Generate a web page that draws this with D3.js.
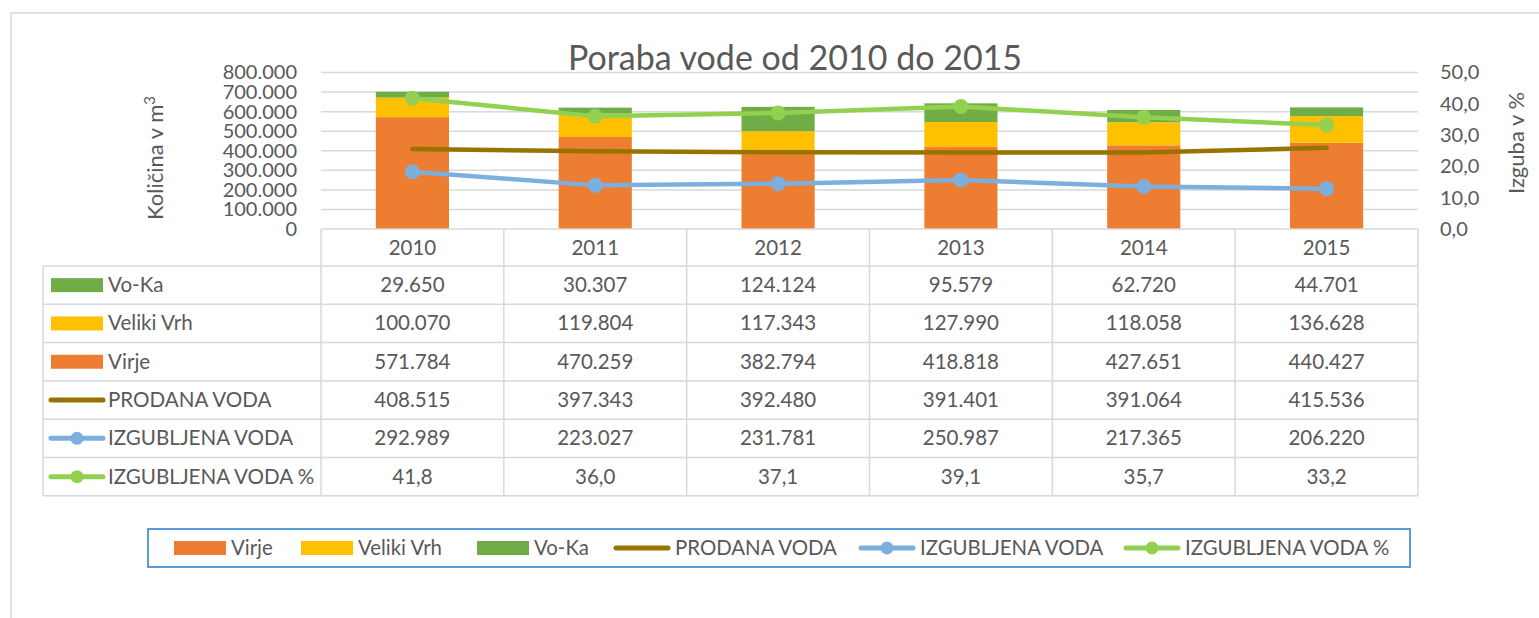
<!DOCTYPE html>
<html>
<head>
<meta charset="utf-8">
<script src="https://cdn.jsdelivr.net/npm/d3@7"></script>
<style>
  body { margin: 0; background: #fff; }
  svg text { font-family: Lato, "Open Sans", sans-serif; fill: #595959; }
</style>
</head>
<body>
<div id="chart"></div>
<script>
// DATA
const years = ["2010", "2011", "2012", "2013", "2014", "2015"]
const virje = [571784, 470259, 382794, 418818, 427651, 440427]
const velikiVrh = [100070, 119804, 117343, 127990, 118058, 136628]
const voKa = [29650, 30307, 124124, 95579, 62720, 44701]
const prodana = [408515, 397343, 392480, 391401, 391064, 415536]
const izgubljena = [292989, 223027, 231781, 250987, 217365, 206220]
const izgubljenaPct = [41.8, 36.0, 37.1, 39.1, 35.7, 33.2]
const leftTicks = [0, 100000, 200000, 300000, 400000, 500000, 600000, 700000, 800000]
const rightTicks = [0, 10, 20, 30, 40, 50]

const width = 1539, height = 618
const plotL = 321, plotR = 1418, plotT = 72.5, plotB = 229

const locale = d3.formatLocale({decimal: ",", thousands: ".", grouping: [3], currency: ["", ""]})
const fmtNum = locale.format(",d")
const fmtPct = locale.format(".1f")

const colors = {
  virje: "#ED7D31", veliki: "#FFC000", voka: "#70AD47",
  prodana: "#997300", izg: "#7CAFDD", pct: "#92D050"
}

const svg = d3.select("#chart").append("svg")
    .attr("width", width)
    .attr("height", height)

// chart border
svg.append("rect")
    .attr("x", 11).attr("y", 13)
    .attr("width", 1700).attr("height", 700)
    .attr("fill", "none")
    .attr("stroke", "#D9D9D9")
    .attr("stroke-width", 1.5)

// SCALES
const xCol = d3.scaleBand().domain(years).range([plotL, plotR])
const yLeft = d3.scaleLinear().domain([0, 800000]).range([plotB, plotT])
const yRight = d3.scaleLinear().domain([0, 50]).range([plotB, plotT])
const cx = d => xCol(d) + xCol.bandwidth() / 2

// TITLE
svg.append("text")
    .attr("x", 795).attr("y", 70)
    .attr("text-anchor", "middle")
    .attr("font-size", 34)
    .text("Poraba vode od 2010 do 2015")

// GRIDLINES
svg.append("g")
    .selectAll("line")
    .data(leftTicks.slice(1))
    .join("line")
    .attr("x1", plotL).attr("x2", plotR)
    .attr("y1", d => yLeft(d)).attr("y2", d => yLeft(d))
    .attr("stroke", "#D9D9D9")
    .attr("stroke-width", 1.5)

// AXES
const leftAxis = svg.append("g")
    .attr("transform", `translate(${plotL - 24},0)`)
    .call(d3.axisLeft(yLeft).tickValues(leftTicks).tickSize(0).tickPadding(0)
        .tickFormat(d => d === 0 ? "0" : fmtNum(d)))
leftAxis.select(".domain").remove()
leftAxis.selectAll("text").attr("font-size", 20).attr("font-family", "Lato").attr("fill", "#595959")

const rightAxis = svg.append("g")
    .attr("transform", `translate(${plotR + 22},0)`)
    .call(d3.axisRight(yRight).tickValues(rightTicks).tickSize(0).tickPadding(0)
        .tickFormat(fmtPct))
rightAxis.select(".domain").remove()
rightAxis.selectAll("text").attr("font-size", 20).attr("font-family", "Lato").attr("fill", "#595959")

// axis titles
const lt = svg.append("text")
    .attr("transform", "translate(163,158) rotate(-90)")
    .attr("text-anchor", "middle")
    .attr("font-size", 22)
lt.append("tspan").text("Količina v m")
lt.append("tspan").attr("dy", -8).attr("font-size", 15).text("3")

svg.append("text")
    .attr("transform", "translate(1524,143) rotate(-90)")
    .attr("text-anchor", "middle")
    .attr("font-size", 22)
    .text("Izguba v %")

// STACKED BARS
const stackRows = years.map((y, i) => ({year: y, virje: virje[i], veliki: velikiVrh[i], voka: voKa[i]}))
const stack = d3.stack().keys(["virje", "veliki", "voka"])(stackRows)
const barW = xCol.bandwidth() * 0.4

svg.append("g")
    .selectAll("g")
    .data(stack)
    .join("g")
    .attr("fill", s => colors[s.key])
    .selectAll("rect")
    .data(s => s)
    .join("rect")
    .attr("x", d => cx(d.data.year) - barW / 2)
    .attr("width", barW)
    .attr("y", d => yLeft(d[1]))
    .attr("height", d => yLeft(d[0]) - yLeft(d[1]))

// LINES
const lineLeft = d3.line().x((d, i) => cx(years[i])).y(d => yLeft(d))
const lineRight = d3.line().x((d, i) => cx(years[i])).y(d => yRight(d))

svg.append("path")
    .datum(prodana)
    .attr("d", lineLeft)
    .attr("fill", "none")
    .attr("stroke", colors.prodana)
    .attr("stroke-width", 4.5)
    .attr("stroke-linecap", "round")

svg.append("path")
    .datum(izgubljena)
    .attr("d", lineLeft)
    .attr("fill", "none")
    .attr("stroke", colors.izg)
    .attr("stroke-width", 4.5)
    .attr("stroke-linecap", "round")

svg.append("g")
    .selectAll("circle")
    .data(izgubljena)
    .join("circle")
    .attr("cx", (d, i) => cx(years[i]))
    .attr("cy", d => yLeft(d))
    .attr("r", 7.5)
    .attr("fill", colors.izg)

svg.append("path")
    .datum(izgubljenaPct)
    .attr("d", lineRight)
    .attr("fill", "none")
    .attr("stroke", colors.pct)
    .attr("stroke-width", 4.5)
    .attr("stroke-linecap", "round")

svg.append("g")
    .selectAll("circle")
    .data(izgubljenaPct)
    .join("circle")
    .attr("cx", (d, i) => cx(years[i]))
    .attr("cy", d => yRight(d))
    .attr("r", 7.5)
    .attr("fill", colors.pct)

// DATA TABLE
const tableL = 43, headerB = 266, rowH = 38.3
const rows = [
  {name: "Vo-Ka", key: "voka", type: "box", vals: voKa.map(fmtNum)},
  {name: "Veliki Vrh", key: "veliki", type: "box", vals: velikiVrh.map(fmtNum)},
  {name: "Virje", key: "virje", type: "box", vals: virje.map(fmtNum)},
  {name: "PRODANA VODA", key: "prodana", type: "line", vals: prodana.map(fmtNum)},
  {name: "IZGUBLJENA VODA", key: "izg", type: "marker", vals: izgubljena.map(fmtNum)},
  {name: "IZGUBLJENA VODA %", key: "pct", type: "marker", vals: izgubljenaPct.map(fmtPct)}
]
const tableB = headerB + rowH * rows.length
const grid = svg.append("g").attr("stroke", "#D9D9D9").attr("stroke-width", 1.5)

// axis baseline / header top
grid.append("line").attr("x1", plotL).attr("x2", plotR).attr("y1", plotB).attr("y2", plotB)
// horizontal row lines
grid.selectAll(".hrow")
    .data(d3.range(rows.length + 1))
    .join("line")
    .attr("x1", tableL).attr("x2", plotR)
    .attr("y1", i => headerB + i * rowH).attr("y2", i => headerB + i * rowH)
// vertical lines
grid.selectAll(".vcol")
    .data(years.map(y => xCol(y)).concat([plotR]))
    .join("line")
    .attr("x1", d => d).attr("x2", d => d)
    .attr("y1", plotB).attr("y2", tableB)
grid.append("line").attr("x1", tableL).attr("x2", tableL).attr("y1", headerB).attr("y2", tableB)

// header years
svg.append("g")
    .selectAll("text")
    .data(years)
    .join("text")
    .attr("x", d => cx(d))
    .attr("y", (plotB + headerB) / 2 + 7)
    .attr("text-anchor", "middle")
    .attr("font-size", 20.5)
    .text(d => d)

// legend key drawer
function drawKey(g, r, x, y, len) {
  if (r.type === "box") {
    g.append("rect").attr("x", x).attr("y", y - 7).attr("width", len).attr("height", 14)
        .attr("fill", colors[r.key])
  } else {
    g.append("line").attr("x1", x + 2).attr("x2", x + len - 2).attr("y1", y).attr("y2", y)
        .attr("stroke", colors[r.key]).attr("stroke-width", 5).attr("stroke-linecap", "round")
    if (r.type === "marker") {
      g.append("circle").attr("cx", x + len / 2).attr("cy", y).attr("r", 6.5).attr("fill", colors[r.key])
    }
  }
}

rows.forEach((r, ri) => {
  const yc = headerB + rowH * ri + rowH / 2
  const g = svg.append("g")
  drawKey(g, r, r.type === "box" ? 51 : 49, yc, r.type === "box" ? 52 : 56)
  g.append("text").attr("x", 108).attr("y", yc + 7).attr("font-size", 20.6).text(r.name)
  g.selectAll(".val")
      .data(r.vals)
      .join("text")
      .attr("x", (d, i) => cx(years[i]))
      .attr("y", yc + 7)
      .attr("text-anchor", "middle")
      .attr("font-size", 20.5)
      .text(d => d)
})

// LEGEND
svg.append("rect")
    .attr("x", 148).attr("y", 529)
    .attr("width", 1262).attr("height", 38)
    .attr("fill", "none")
    .attr("stroke", "#5B9BD5")
    .attr("stroke-width", 2)

const legendItems = [
  {name: "Virje", key: "virje", type: "box", x: 174},
  {name: "Veliki Vrh", key: "veliki", type: "box", x: 301},
  {name: "Vo-Ka", key: "voka", type: "box", x: 477},
  {name: "PRODANA VODA", key: "prodana", type: "line", x: 614},
  {name: "IZGUBLJENA VODA", key: "izg", type: "marker", x: 859},
  {name: "IZGUBLJENA VODA %", key: "pct", type: "marker", x: 1124}
]
legendItems.forEach(it => {
  const g = svg.append("g")
  drawKey(g, it, it.x, 548, it.type === "box" ? 52 : 56)
  g.append("text").attr("x", it.x + (it.type === "box" ? 57 : 61)).attr("y", 555)
      .attr("font-size", 20.4).text(it.name)
})
</script>
</body>
</html>
